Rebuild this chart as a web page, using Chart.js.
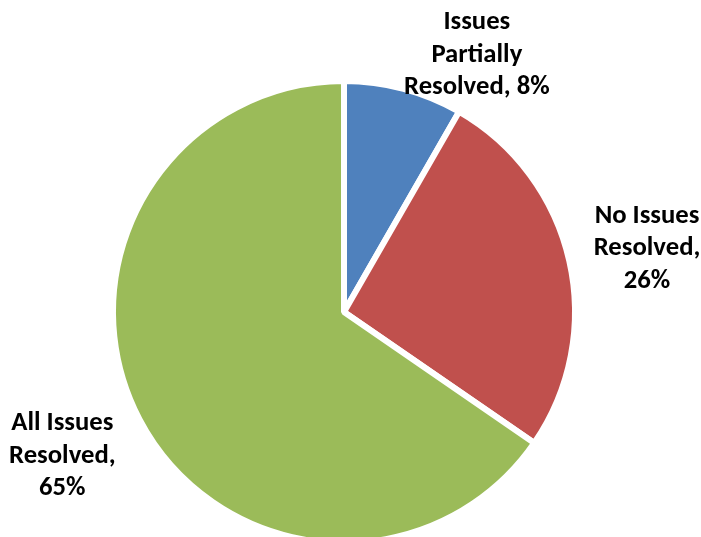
<!DOCTYPE html>
<html>
<head>
<meta charset="utf-8">
<script src="https://cdn.jsdelivr.net/npm/chart.js@4.4.1/dist/chart.umd.min.js"></script>
<style>
  html, body { margin: 0; padding: 0; background: #ffffff; overflow: hidden; }
  #wrap { position: relative; width: 701px; height: 560px; }
</style>
</head>
<body>
<div id="wrap"><canvas id="c"></canvas></div>
<script>
// ---- data ----
const categories = ["Issues Partially Resolved", "No Issues Resolved", "All Issues Resolved"];
const values = [8.3, 26.3, 65.4];
const colors = ["#4F81BD", "#C0504D", "#9BBB59"];

// ---- label styling (placement relative to each slice) ----
const labelStyle = {
  font: "bold 26.7px Carlito, Lato",
  lineHeight: 32.5,
  angleShiftDeg: [12.4, 1.0, 0.6],
  distFactor: [1.252, 1.34, 1.37],
  maxWidth: [152, 130, 130]
};

function wrapText(ctx, text, maxW) {
  const words = text.split(" ");
  const lines = [];
  let cur = "";
  for (const w of words) {
    const t = cur ? cur + " " + w : w;
    if (cur && ctx.measureText(t).width > maxW) { lines.push(cur); cur = w; }
    else cur = t;
  }
  if (cur) lines.push(cur);
  return lines;
}

const labelPlugin = {
  id: "outsideLabels",
  afterDatasetsDraw(chart) {
    const ctx = chart.ctx;
    const meta = chart.getDatasetMeta(0);
    const total = values.reduce((a, b) => a + b, 0);
    ctx.save();
    ctx.font = labelStyle.font;
    ctx.fillStyle = "#000000";
    ctx.textAlign = "center";
    ctx.textBaseline = "middle";
    meta.data.forEach((arc, i) => {
      const p = arc.getProps(["x", "y", "startAngle", "endAngle", "outerRadius"], true);
      const mid = (p.startAngle + p.endAngle) / 2 + labelStyle.angleShiftDeg[i] * Math.PI / 180;
      const d = p.outerRadius * labelStyle.distFactor[i];
      const cx = p.x + Math.cos(mid) * d;
      const cy = p.y + Math.sin(mid) * d;
      const pct = Math.round(values[i] / total * 100);
      const lines = wrapText(ctx, categories[i] + ", " + pct + "%", labelStyle.maxWidth[i]);
      const n = lines.length;
      lines.forEach((ln, k) => {
        ctx.fillText(ln, cx, cy + (k - (n - 1) / 2) * labelStyle.lineHeight);
      });
    });
    ctx.restore();
  }
};

new Chart(document.getElementById("c"), {
  type: "pie",
  data: {
    labels: categories,
    datasets: [{
      data: values,
      backgroundColor: colors,
      borderColor: "#ffffff",
      borderWidth: 6,
      hoverOffset: 0
    }]
  },
  options: {
    responsive: true,
    maintainAspectRatio: false,
    animation: false,
    layout: { padding: { top: 78, bottom: 14, left: 110, right: 123 } },
    plugins: {
      legend: { display: false },
      tooltip: { enabled: false }
    }
  },
  plugins: [labelPlugin]
});
</script>
</body>
</html>
